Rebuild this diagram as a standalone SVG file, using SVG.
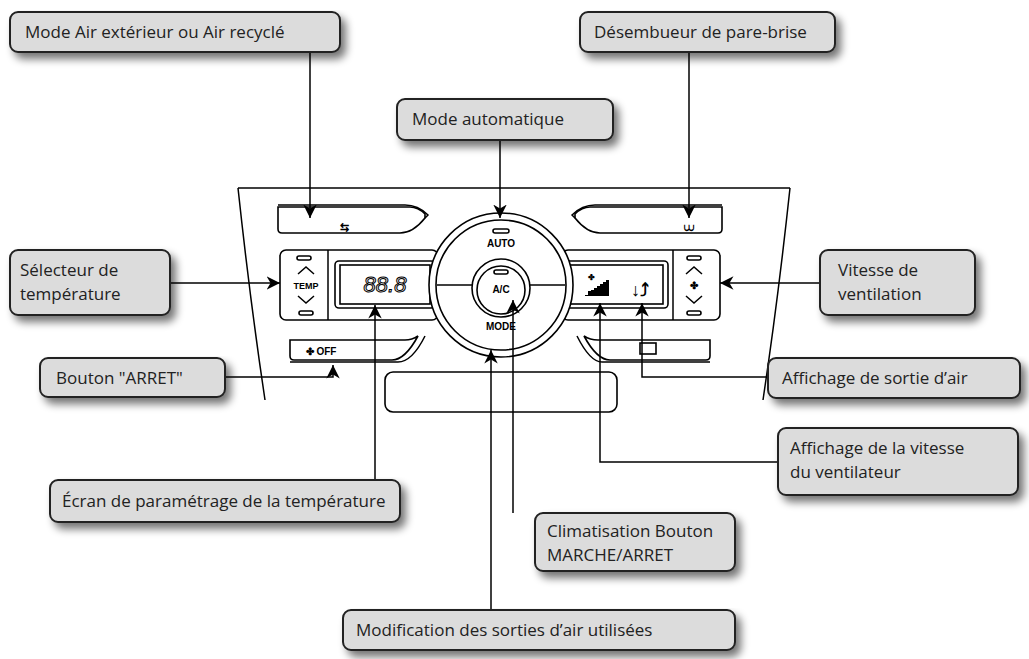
<svg xmlns="http://www.w3.org/2000/svg" width="1029" height="659" viewBox="0 0 1029 659">
<defs>
<filter id="sh" x="-10%" y="-20%" width="130%" height="170%"><feGaussianBlur in="SourceAlpha" stdDeviation="4"/><feOffset dx="5" dy="6"/><feComponentTransfer><feFuncA type="linear" slope="0.55"/></feComponentTransfer><feMerge><feMergeNode/><feMergeNode in="SourceGraphic"/></feMerge></filter>
<marker id="ar" viewBox="0 0 10 10" refX="10" refY="5" markerWidth="9" markerHeight="9" orient="auto"><path d="M0,0 L10,5 L0,10 L3,5 z" fill="#000"/></marker>
<style>
.lb{fill:#dcdcdc;stroke:#222;stroke-width:2;filter:url(#sh)}
.lt{font-family:"Open Sans","Liberation Sans",sans-serif;font-size:17px;fill:#222}
.c{fill:none;stroke:#000;stroke-width:1.5}
.p{fill:#fff;stroke:#000;stroke-width:1.6}
.pt{font-family:"Liberation Sans",Arial,sans-serif;font-weight:bold;fill:#000;text-anchor:middle}
</style>
</defs>
<rect width="1029" height="659" fill="#fff"/>
<g id="panel">
<path d="M238,188 L790,188" class="c"/>
<path d="M238,188 Q250,300 265,400" class="c"/>
<path d="M790,188 Q778,300 763,400" class="c"/>
<rect x="385" y="372" width="232" height="40" rx="8" class="p"/>
<path d="M278,207 H410 Q418,207 425,214 L425,218 Q413,233 400,233 H282 Q278,233 278,229 Z" class="p"/>
<path d="M278,205 H405 Q418,205 428,215 L425,218" class="c"/>
<path d="M722,207 H590 Q582,207 575,214 L575,218 Q587,233 600,233 H718 Q722,233 722,229 Z" class="p"/>
<path d="M722,205 H595 Q582,205 572,215 L575,218" class="c"/>
<path d="M290,340 H405 Q412,340 418,336 Q405,360 392,360 H294 Q290,360 290,356 Z" class="p"/>
<path d="M290,362 H398 Q412,362 425,336" class="c"/>
<path d="M710,340 H598 Q590,340 584,336 Q597,360 610,360 H706 Q710,360 710,356 Z" class="p"/>
<path d="M710,362 H602 Q590,362 577,336" class="c"/>
<rect x="280" y="250" width="158" height="70" rx="6" class="p"/>
<line x1="328" y1="250" x2="328" y2="320" class="c"/>
<rect x="335" y="261" width="100" height="47" rx="4" class="p"/>
<rect x="340" y="265" width="90" height="39" class="p"/>
<rect x="562" y="250" width="158" height="70" rx="6" class="p"/>
<line x1="673" y1="250" x2="673" y2="320" class="c"/>
<rect x="565" y="261" width="103" height="47" rx="4" class="p"/>
<rect x="570" y="265" width="93" height="39" class="p"/>
<circle cx="501" cy="285" r="72" class="p" stroke-width="2"/>
<circle cx="501" cy="285" r="65" class="p"/>
<line x1="437" y1="285" x2="472" y2="285" class="c"/>
<line x1="530" y1="285" x2="565" y2="285" class="c"/>
<circle cx="501" cy="288" r="29" class="p" stroke-width="2"/>
<circle cx="501" cy="290" r="24" class="p"/>
<rect x="494" y="270" width="14" height="4" rx="2" class="p" stroke-width="1"/>
<rect x="493" y="229" width="16" height="4" rx="2" class="p" stroke-width="1"/>
<text x="501" y="247" class="pt" font-size="10">AUTO</text>
<text x="501" y="293" class="pt" font-size="10">A/C</text>
<text x="501" y="330" class="pt" font-size="10">MODE</text>
<rect x="297" y="256" width="14" height="4" rx="2" class="p" stroke-width="1"/>
<rect x="299" y="311" width="14" height="4" rx="2" class="p" stroke-width="1"/>
<path d="M298,274 L306,267 L314,274 M298,296 L306,303 L314,296" class="c"/>
<text x="306" y="289" class="pt" font-size="9">TEMP</text>
<rect x="687" y="256" width="14" height="4" rx="2" class="p" stroke-width="1"/>
<rect x="687" y="311" width="14" height="4" rx="2" class="p" stroke-width="1"/>
<path d="M686,274 L694,267 L702,274 M686,296 L694,303 L702,296" class="c"/>
<text x="694" y="289" class="pt" font-size="10">✤</text>
<text x="385" y="292" font-family="Liberation Sans,sans-serif" font-style="italic" font-size="22" fill="#fff" stroke="#000" stroke-width="1" text-anchor="middle">88.8</text>
<text x="591" y="280" class="pt" font-size="8">✤</text>
<path d="M585,295 h3v-4h3v-1h3v-2h3v-2h3v-2h3v-2h3v-2h3v16h-24z" fill="#000"/>
<text x="640" y="296" class="pt" font-size="18">↓⤴</text>
<text x="321" y="355" class="pt" font-size="10">✤ OFF</text>
<rect x="640" y="343" width="16" height="11" class="p" stroke-width="1"/>
<text x="689" y="231" class="pt" font-size="10">⩊</text>
<text x="344" y="231" class="pt" font-size="11">⇆</text>
</g>
<g id="connectors">
<path d="M310,52 V218" class="c" marker-end="url(#ar)"/>
<path d="M689,52 V218" class="c" marker-end="url(#ar)"/>
<path d="M500,140 V218" class="c" marker-end="url(#ar)"/>
<path d="M170,283 H280" class="c" marker-end="url(#ar)"/>
<path d="M820,283 H720" class="c" marker-end="url(#ar)"/>
<path d="M768,377 H642 V303" class="c" marker-end="url(#ar)"/>
<path d="M778,462 H600 V303" class="c" marker-end="url(#ar)"/>
<path d="M225,377 H333 V365" class="c" marker-end="url(#ar)"/>
<path d="M375,480 V305" class="c" marker-end="url(#ar)"/>
<path d="M513,513 V300" class="c" marker-end="url(#ar)"/>
<path d="M491,610 V350" class="c" marker-end="url(#ar)"/>
</g>
<g id="n1"><rect x="10" y="12" width="330" height="40" rx="8" class="lb"/><text x="25" y="38" class="lt">Mode Air extérieur ou Air recyclé</text></g>
<g id="n2"><rect x="580" y="12" width="255" height="40" rx="8" class="lb"/><text x="594" y="38" class="lt">Désembueur de pare-brise</text></g>
<g id="n3"><rect x="397" y="99" width="216" height="41" rx="8" class="lb"/><text x="412" y="125" class="lt">Mode automatique</text></g>
<g id="n4"><rect x="10" y="250" width="160" height="65" rx="8" class="lb"/><text x="20" y="276" class="lt">Sélecteur de</text><text x="20" y="300" class="lt">température</text></g>
<g id="n5"><rect x="820" y="250" width="155" height="65" rx="8" class="lb"/><text x="838" y="276" class="lt">Vitesse de</text><text x="838" y="300" class="lt">ventilation</text></g>
<g id="n6"><rect x="768" y="358" width="252" height="40" rx="8" class="lb"/><text x="782" y="384" class="lt">Affichage de sortie d’air</text></g>
<g id="n7"><rect x="778" y="428" width="240" height="67" rx="8" class="lb"/><text x="790" y="454" class="lt">Affichage de la vitesse</text><text x="790" y="478" class="lt">du ventilateur</text></g>
<g id="n8"><rect x="40" y="358" width="185" height="39" rx="8" class="lb"/><text x="56" y="384" class="lt">Bouton "ARRET"</text></g>
<g id="n9"><rect x="50" y="480" width="350" height="42" rx="8" class="lb"/><text x="62" y="507" class="lt">Écran de paramétrage de la température</text></g>
<g id="n10"><rect x="535" y="513" width="200" height="58" rx="8" class="lb"/><text x="547" y="537" class="lt">Climatisation Bouton</text><text x="547" y="561" class="lt">MARCHE/ARRET</text></g>
<g id="n11"><rect x="343" y="610" width="392" height="40" rx="8" class="lb"/><text x="356" y="636" class="lt">Modification des sorties d’air utilisées</text></g>
</svg>
